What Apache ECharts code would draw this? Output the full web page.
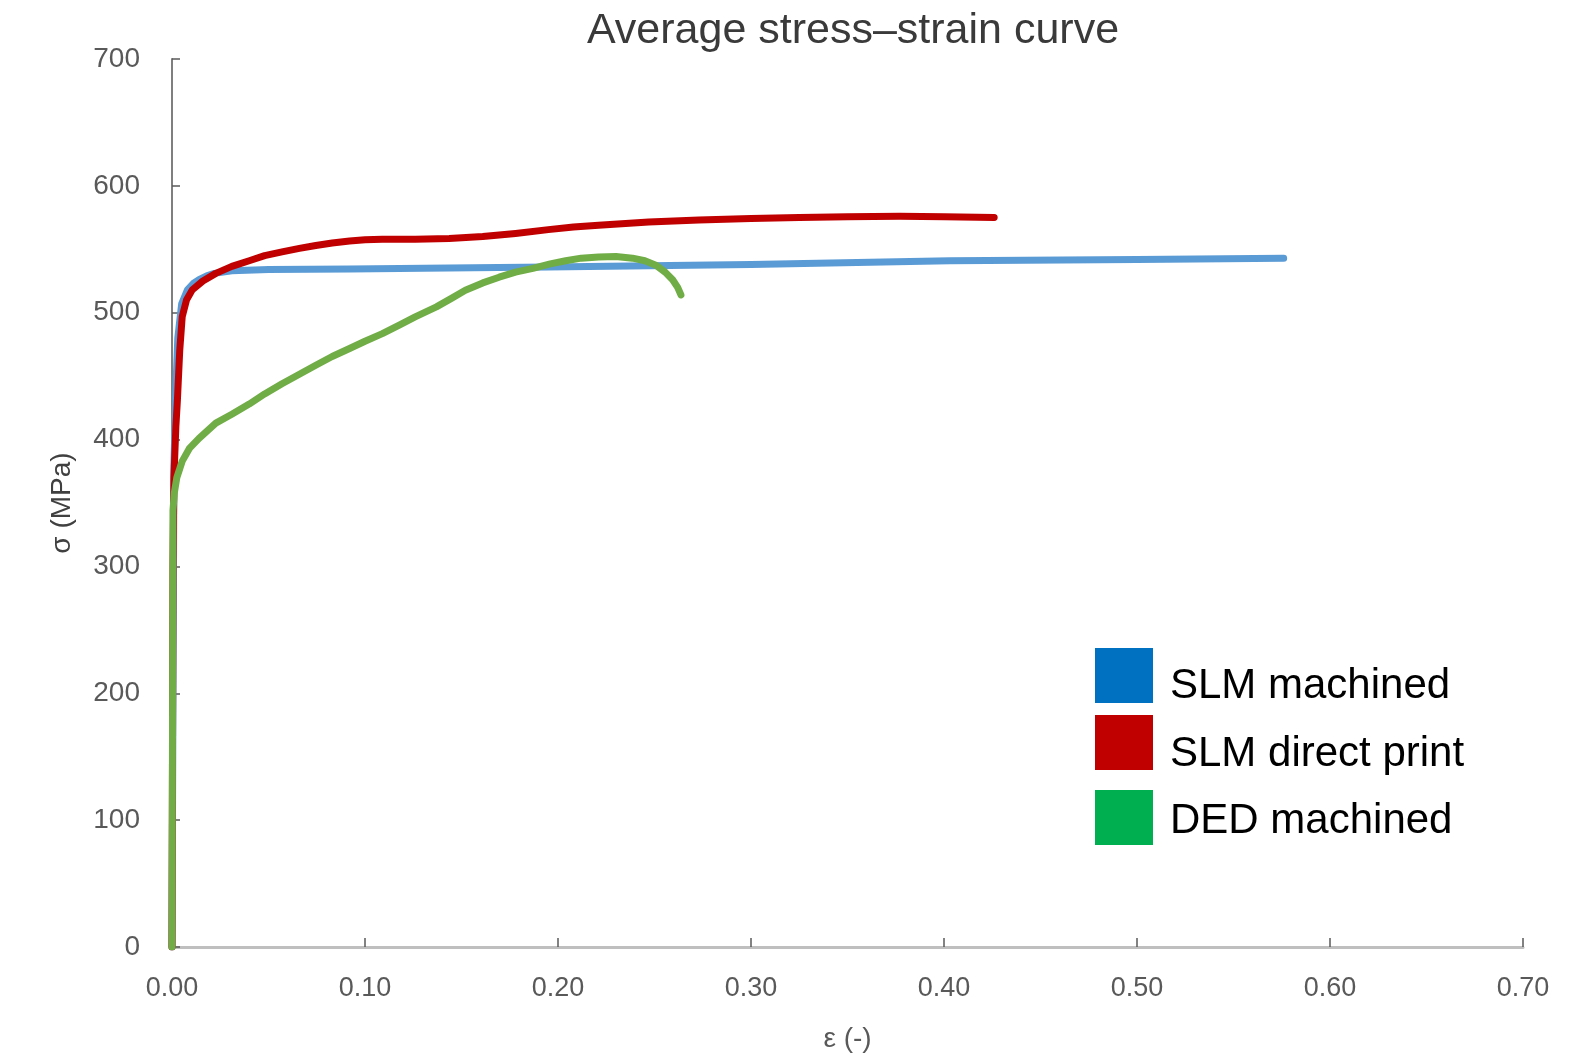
<!DOCTYPE html>
<html>
<head>
<meta charset="utf-8">
<script src="https://cdn.jsdelivr.net/npm/echarts@6/dist/echarts.min.js"></script>
<style>
html,body{margin:0;padding:0;background:#fff;}
#chart{width:1585px;height:1058px;}
</style>
</head>
<body>
<div id="chart"></div>
<script>
const seriesNames = ['SLM machined', 'SLM direct print', 'DED machined'];
const xTickLabels = ['0.00','0.10','0.20','0.30','0.40','0.50','0.60','0.70'];
const yTickLabels = ['0','100','200','300','400','500','600','700'];

const slmMachined = [
  [0,0],[0.0005,200],[0.001,380],[0.002,440],[0.003,480],[0.005,507],[0.008,518],
  [0.011,523],[0.014,526],[0.018,529],[0.022,531],[0.031,533],[0.05,534],[0.092,534.5],[0.195,536],
  [0.30,538],[0.403,541],[0.50,542],[0.576,543]
];
const slmDirectPrint = [
  [0,0],[0.0005,300],[0.001,370],[0.002,410],[0.0028,431],[0.004,470],[0.0053,497],
  [0.0075,510],[0.0105,518],[0.016,525],[0.0227,531],[0.031,536.5],[0.04,541],[0.048,545],[0.057,548],
  [0.066,550.7],[0.0745,553],[0.083,555],[0.092,556.5],[0.100,557.5],[0.109,558],[0.126,558],[0.1436,558.5],[0.161,560],
  [0.178,562.5],[0.195,565.5],[0.208,567.5],[0.221,569],[0.247,571.5],[0.273,573],[0.30,574.2],[0.325,575],[0.35,575.6],[0.377,576],[0.40,575.6],[0.426,575]
];
const dedMachined = [
  [0,0],[0.0003,200],[0.0005,344],[0.0012,358],[0.0025,370],[0.0053,383],[0.009,393],[0.014,401],[0.0227,413],
  [0.031,420],[0.040,428],[0.048,436],[0.057,444],[0.066,451.5],[0.0745,458.6],[0.083,465.5],[0.092,471.8],[0.10,477.5],[0.109,483.5],
  [0.118,490.5],[0.126,496.7],[0.137,504.6],[0.145,511.5],[0.152,517.7],[0.161,523.5],[0.1695,528],[0.178,532],[0.187,535],[0.196,538.5],[0.204,541],
  [0.212,543],[0.221,544],[0.230,544.3],[0.2386,543],[0.245,541],[0.2507,537.5],[0.2555,532],[0.2594,526],[0.2620,520],[0.2637,514]
];

const lineColors = ['#5B9BD5', '#C00000', '#70AD47'];
const legendColors = ['#0070C0', '#C00000', '#00B050'];
const dataSets = [slmMachined, slmDirectPrint, dedMachined];
const legendIconTops = [643, 710, 785];
const legendTextTops = [654, 722, 789];

const chart = echarts.init(document.getElementById('chart'));
const font = 'Liberation Sans, Arial, sans-serif';

const iconLegends = seriesNames.map((n, i) => ({
  left: 1090, top: legendIconTops[i], orient: 'vertical',
  itemWidth: 58, itemHeight: 55, itemGap: 0,
  icon: 'rect',
  data: [{name: n, icon: 'rect', itemStyle: {color: legendColors[i]}}],
  formatter: () => '',
  textStyle: {fontSize: 1, padding: 0}
}));
const textLegends = seriesNames.map((n, i) => ({
  left: 1160, top: legendTextTops[i], orient: 'vertical',
  itemWidth: 0, itemHeight: 55, itemGap: 0,
  icon: 'none',
  data: [{name: n, icon: 'none'}],
  textStyle: {fontFamily: font, fontSize: 42, color: '#000000', padding: 0}
}));

chart.setOption({
  animation: false,
  backgroundColor: '#ffffff',
  title: {
    text: 'Average stress\u2013strain curve',
    left: 848, top: 5, textAlign: 'center',
    textStyle: {fontFamily: font, fontSize: 43, fontWeight: 'normal', color: '#3a3a3a'}
  },
  legend: iconLegends.concat(textLegends),
  grid: {left: 172, right: 62, top: 59, bottom: 111, containLabel: false},
  xAxis: {
    type: 'value', min: 0, max: 0.7, interval: 0.1,
    name: '\u03b5 (-)', nameLocation: 'middle', nameGap: 78,
    nameTextStyle: {fontFamily: font, fontSize: 28, color: '#595959'},
    axisLine: {show: true, lineStyle: {color: '#bfbfbf', width: 3}},
    axisTick: {show: true, inside: true, length: 9, lineStyle: {color: '#595959', width: 1.5}},
    axisLabel: {
      fontFamily: font, fontSize: 27, color: '#595959', margin: 28,
      formatter: (v) => xTickLabels[Math.round(v * 10)]
    },
    splitLine: {show: false}
  },
  yAxis: {
    type: 'value', min: 0, max: 700, interval: 100,
    name: '\u03c3 (MPa)', nameLocation: 'middle', nameGap: 96,
    nameTextStyle: {fontFamily: font, fontSize: 28, color: '#404040'},
    axisLine: {show: true, lineStyle: {color: '#7f7f7f', width: 2}},
    axisTick: {show: true, inside: true, length: 8, lineStyle: {color: '#595959', width: 1.5}},
    axisLabel: {
      fontFamily: font, fontSize: 28, color: '#595959', margin: 32,
      formatter: (v) => yTickLabels[Math.round(v / 100)]
    },
    splitLine: {show: false}
  },
  series: seriesNames.map((n, i) => ({
    name: n, type: 'line', data: dataSets[i],
    showSymbol: false, symbol: 'none',
    smooth: false,
    lineStyle: {color: lineColors[i], width: 7, cap: 'round', join: 'round'},
    itemStyle: {color: legendColors[i]},
    z: 2 + i
  }))
});
</script>
</body>
</html>
